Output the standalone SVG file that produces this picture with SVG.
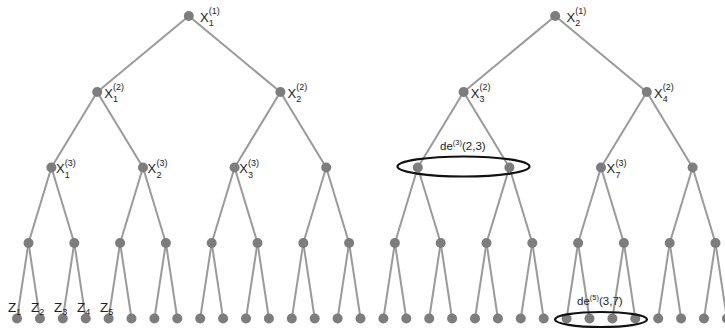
<svg xmlns="http://www.w3.org/2000/svg" width="725" height="329" viewBox="0 0 725 329">
<style>
.e{stroke:#9a9a9a;stroke-width:2;fill:none}
.n{fill:#7d7d7d}
.t{font-family:"Liberation Sans",Arial,sans-serif;fill:#222;font-size:13px}
.s{font-size:9px}
.z{font-family:"Liberation Sans",Arial,sans-serif;fill:#222;font-size:13.5px}
.zs{font-size:9px}
.d{font-family:"Liberation Sans",Arial,sans-serif;fill:#222;font-size:11.5px}
.ds{font-size:7.5px}
.o{fill:none;stroke:#111;stroke-width:2.2}
</style>
<rect width="725" height="329" fill="#fff"/>
<g id="connectors">
<line class="e" x1="188.8" y1="16" x2="97.2" y2="92"/>
<line class="e" x1="188.8" y1="16" x2="280.4" y2="92"/>
<line class="e" x1="555.2" y1="16" x2="463.6" y2="92"/>
<line class="e" x1="555.2" y1="16" x2="646.8" y2="92"/>
<line class="e" x1="97.2" y1="92" x2="51.4" y2="167.5"/>
<line class="e" x1="97.2" y1="92" x2="143" y2="167.5"/>
<line class="e" x1="280.4" y1="92" x2="234.6" y2="167.5"/>
<line class="e" x1="280.4" y1="92" x2="326.2" y2="167.5"/>
<line class="e" x1="463.6" y1="92" x2="417.8" y2="167.5"/>
<line class="e" x1="463.6" y1="92" x2="509.4" y2="167.5"/>
<line class="e" x1="646.8" y1="92" x2="601" y2="167.5"/>
<line class="e" x1="646.8" y1="92" x2="692.6" y2="167.5"/>
<line class="e" x1="51.4" y1="167.5" x2="28.5" y2="243"/>
<line class="e" x1="51.4" y1="167.5" x2="74.3" y2="243"/>
<line class="e" x1="143" y1="167.5" x2="120.1" y2="243"/>
<line class="e" x1="143" y1="167.5" x2="165.9" y2="243"/>
<line class="e" x1="234.6" y1="167.5" x2="211.7" y2="243"/>
<line class="e" x1="234.6" y1="167.5" x2="257.5" y2="243"/>
<line class="e" x1="326.2" y1="167.5" x2="303.3" y2="243"/>
<line class="e" x1="326.2" y1="167.5" x2="349.1" y2="243"/>
<line class="e" x1="417.8" y1="167.5" x2="394.9" y2="243"/>
<line class="e" x1="417.8" y1="167.5" x2="440.7" y2="243"/>
<line class="e" x1="509.4" y1="167.5" x2="486.5" y2="243"/>
<line class="e" x1="509.4" y1="167.5" x2="532.3" y2="243"/>
<line class="e" x1="601" y1="167.5" x2="578.1" y2="243"/>
<line class="e" x1="601" y1="167.5" x2="623.9" y2="243"/>
<line class="e" x1="692.6" y1="167.5" x2="669.7" y2="243"/>
<line class="e" x1="692.6" y1="167.5" x2="715.5" y2="243"/>
<line class="e" x1="28.5" y1="243" x2="17" y2="318.5"/>
<line class="e" x1="28.5" y1="243" x2="39.9" y2="318.5"/>
<line class="e" x1="74.3" y1="243" x2="62.8" y2="318.5"/>
<line class="e" x1="74.3" y1="243" x2="85.7" y2="318.5"/>
<line class="e" x1="120.1" y1="243" x2="108.6" y2="318.5"/>
<line class="e" x1="120.1" y1="243" x2="131.5" y2="318.5"/>
<line class="e" x1="165.9" y1="243" x2="154.4" y2="318.5"/>
<line class="e" x1="165.9" y1="243" x2="177.3" y2="318.5"/>
<line class="e" x1="211.7" y1="243" x2="200.2" y2="318.5"/>
<line class="e" x1="211.7" y1="243" x2="223.1" y2="318.5"/>
<line class="e" x1="257.5" y1="243" x2="246" y2="318.5"/>
<line class="e" x1="257.5" y1="243" x2="268.9" y2="318.5"/>
<line class="e" x1="303.3" y1="243" x2="291.8" y2="318.5"/>
<line class="e" x1="303.3" y1="243" x2="314.7" y2="318.5"/>
<line class="e" x1="349.1" y1="243" x2="337.6" y2="318.5"/>
<line class="e" x1="349.1" y1="243" x2="360.5" y2="318.5"/>
<line class="e" x1="394.9" y1="243" x2="383.4" y2="318.5"/>
<line class="e" x1="394.9" y1="243" x2="406.3" y2="318.5"/>
<line class="e" x1="440.7" y1="243" x2="429.2" y2="318.5"/>
<line class="e" x1="440.7" y1="243" x2="452.1" y2="318.5"/>
<line class="e" x1="486.5" y1="243" x2="475" y2="318.5"/>
<line class="e" x1="486.5" y1="243" x2="497.9" y2="318.5"/>
<line class="e" x1="532.3" y1="243" x2="520.8" y2="318.5"/>
<line class="e" x1="532.3" y1="243" x2="543.7" y2="318.5"/>
<line class="e" x1="578.1" y1="243" x2="566.6" y2="318.5"/>
<line class="e" x1="578.1" y1="243" x2="589.5" y2="318.5"/>
<line class="e" x1="623.9" y1="243" x2="612.4" y2="318.5"/>
<line class="e" x1="623.9" y1="243" x2="635.3" y2="318.5"/>
<line class="e" x1="669.7" y1="243" x2="658.2" y2="318.5"/>
<line class="e" x1="669.7" y1="243" x2="681.1" y2="318.5"/>
<line class="e" x1="715.5" y1="243" x2="704" y2="318.5"/>
<line class="e" x1="715.5" y1="243" x2="726.9" y2="318.5"/>
</g>
<g id="n1_1"><circle class="n" cx="188.8" cy="16" r="5"/><text class="t"><tspan x="200" y="21.5">X</tspan><tspan class="s" x="208.8" y="14">(1)</tspan><tspan class="s" x="208.8" y="26">1</tspan></text></g>
<g id="n1_2"><circle class="n" cx="555.2" cy="16" r="5"/><text class="t"><tspan x="566.5" y="21.5">X</tspan><tspan class="s" x="575.3" y="14">(1)</tspan><tspan class="s" x="575.3" y="26">2</tspan></text></g>
<g id="n2_1"><circle class="n" cx="97.2" cy="92" r="5"/><text class="t"><tspan x="104.3" y="97.5">X</tspan><tspan class="s" x="113.1" y="90">(2)</tspan><tspan class="s" x="113.1" y="102">1</tspan></text></g>
<g id="n2_2"><circle class="n" cx="280.4" cy="92" r="5"/><text class="t"><tspan x="287.5" y="97.5">X</tspan><tspan class="s" x="296.3" y="90">(2)</tspan><tspan class="s" x="296.3" y="102">2</tspan></text></g>
<g id="n2_3"><circle class="n" cx="463.6" cy="92" r="5"/><text class="t"><tspan x="470.7" y="97.5">X</tspan><tspan class="s" x="479.5" y="90">(2)</tspan><tspan class="s" x="479.5" y="102">3</tspan></text></g>
<g id="n2_4"><circle class="n" cx="646.8" cy="92" r="5"/><text class="t"><tspan x="653.9" y="97.5">X</tspan><tspan class="s" x="662.7" y="90">(2)</tspan><tspan class="s" x="662.7" y="102">4</tspan></text></g>
<g id="n3_1"><circle class="n" cx="51.4" cy="167.5" r="5"/><text class="t"><tspan x="56" y="173">X</tspan><tspan class="s" x="64.8" y="165.5">(3)</tspan><tspan class="s" x="64.8" y="177.5">1</tspan></text></g>
<g id="n3_2"><circle class="n" cx="143" cy="167.5" r="5"/><text class="t"><tspan x="147.6" y="173">X</tspan><tspan class="s" x="156.4" y="165.5">(3)</tspan><tspan class="s" x="156.4" y="177.5">2</tspan></text></g>
<g id="n3_3"><circle class="n" cx="234.6" cy="167.5" r="5"/><text class="t"><tspan x="239.2" y="173">X</tspan><tspan class="s" x="248" y="165.5">(3)</tspan><tspan class="s" x="248" y="177.5">3</tspan></text></g>
<g id="n3_4"><circle class="n" cx="326.2" cy="167.5" r="5"/></g>
<g id="n3_5"><circle class="n" cx="417.8" cy="167.5" r="5"/></g>
<g id="n3_6"><circle class="n" cx="509.4" cy="167.5" r="5"/></g>
<g id="n3_7"><circle class="n" cx="601" cy="167.5" r="5"/><text class="t"><tspan x="606.6" y="173">X</tspan><tspan class="s" x="615.4" y="165.5">(3)</tspan><tspan class="s" x="615.4" y="177.5">7</tspan></text></g>
<g id="n3_8"><circle class="n" cx="692.6" cy="167.5" r="5"/></g>
<g id="n4_1"><circle class="n" cx="28.5" cy="243" r="5"/></g>
<g id="n4_2"><circle class="n" cx="74.3" cy="243" r="5"/></g>
<g id="n4_3"><circle class="n" cx="120.1" cy="243" r="5"/></g>
<g id="n4_4"><circle class="n" cx="165.9" cy="243" r="5"/></g>
<g id="n4_5"><circle class="n" cx="211.7" cy="243" r="5"/></g>
<g id="n4_6"><circle class="n" cx="257.5" cy="243" r="5"/></g>
<g id="n4_7"><circle class="n" cx="303.3" cy="243" r="5"/></g>
<g id="n4_8"><circle class="n" cx="349.1" cy="243" r="5"/></g>
<g id="n4_9"><circle class="n" cx="394.9" cy="243" r="5"/></g>
<g id="n4_10"><circle class="n" cx="440.7" cy="243" r="5"/></g>
<g id="n4_11"><circle class="n" cx="486.5" cy="243" r="5"/></g>
<g id="n4_12"><circle class="n" cx="532.3" cy="243" r="5"/></g>
<g id="n4_13"><circle class="n" cx="578.1" cy="243" r="5"/></g>
<g id="n4_14"><circle class="n" cx="623.9" cy="243" r="5"/></g>
<g id="n4_15"><circle class="n" cx="669.7" cy="243" r="5"/></g>
<g id="n4_16"><circle class="n" cx="715.5" cy="243" r="5"/></g>
<g id="n5_1"><circle class="n" cx="17" cy="318.5" r="5"/></g>
<g id="n5_2"><circle class="n" cx="39.9" cy="318.5" r="5"/></g>
<g id="n5_3"><circle class="n" cx="62.8" cy="318.5" r="5"/></g>
<g id="n5_4"><circle class="n" cx="85.7" cy="318.5" r="5"/></g>
<g id="n5_5"><circle class="n" cx="108.6" cy="318.5" r="5"/></g>
<g id="n5_6"><circle class="n" cx="131.5" cy="318.5" r="5"/></g>
<g id="n5_7"><circle class="n" cx="154.4" cy="318.5" r="5"/></g>
<g id="n5_8"><circle class="n" cx="177.3" cy="318.5" r="5"/></g>
<g id="n5_9"><circle class="n" cx="200.2" cy="318.5" r="5"/></g>
<g id="n5_10"><circle class="n" cx="223.1" cy="318.5" r="5"/></g>
<g id="n5_11"><circle class="n" cx="246" cy="318.5" r="5"/></g>
<g id="n5_12"><circle class="n" cx="268.9" cy="318.5" r="5"/></g>
<g id="n5_13"><circle class="n" cx="291.8" cy="318.5" r="5"/></g>
<g id="n5_14"><circle class="n" cx="314.7" cy="318.5" r="5"/></g>
<g id="n5_15"><circle class="n" cx="337.6" cy="318.5" r="5"/></g>
<g id="n5_16"><circle class="n" cx="360.5" cy="318.5" r="5"/></g>
<g id="n5_17"><circle class="n" cx="383.4" cy="318.5" r="5"/></g>
<g id="n5_18"><circle class="n" cx="406.3" cy="318.5" r="5"/></g>
<g id="n5_19"><circle class="n" cx="429.2" cy="318.5" r="5"/></g>
<g id="n5_20"><circle class="n" cx="452.1" cy="318.5" r="5"/></g>
<g id="n5_21"><circle class="n" cx="475" cy="318.5" r="5"/></g>
<g id="n5_22"><circle class="n" cx="497.9" cy="318.5" r="5"/></g>
<g id="n5_23"><circle class="n" cx="520.8" cy="318.5" r="5"/></g>
<g id="n5_24"><circle class="n" cx="543.7" cy="318.5" r="5"/></g>
<g id="n5_25"><circle class="n" cx="566.6" cy="318.5" r="5"/></g>
<g id="n5_26"><circle class="n" cx="589.5" cy="318.5" r="5"/></g>
<g id="n5_27"><circle class="n" cx="612.4" cy="318.5" r="5"/></g>
<g id="n5_28"><circle class="n" cx="635.3" cy="318.5" r="5"/></g>
<g id="n5_29"><circle class="n" cx="658.2" cy="318.5" r="5"/></g>
<g id="n5_30"><circle class="n" cx="681.1" cy="318.5" r="5"/></g>
<g id="n5_31"><circle class="n" cx="704" cy="318.5" r="5"/></g>
<g id="n5_32"><circle class="n" cx="726.9" cy="318.5" r="5"/></g>
<g id="leaf_labels">
<text class="z"><tspan x="8" y="312">Z</tspan><tspan class="zs" x="16.2" y="315">1</tspan></text>
<text class="z"><tspan x="31" y="312">Z</tspan><tspan class="zs" x="39.2" y="315">2</tspan></text>
<text class="z"><tspan x="54" y="312">Z</tspan><tspan class="zs" x="62.2" y="315">3</tspan></text>
<text class="z"><tspan x="77" y="312">Z</tspan><tspan class="zs" x="85.2" y="315">4</tspan></text>
<text class="z"><tspan x="100" y="312">Z</tspan><tspan class="zs" x="108.2" y="315">5</tspan></text>
</g>
<g id="group_de3">
<ellipse class="o" cx="463.5" cy="166.5" rx="66" ry="10"/>
<text class="d" x="440" y="150">de<tspan class="ds" dy="-5">(3)</tspan><tspan dy="5">(2,3)</tspan></text>
</g>
<g id="group_de5">
<ellipse class="o" cx="601" cy="319.5" rx="46" ry="7.5"/>
<text class="d" x="577" y="304.5">de<tspan class="ds" dy="-5">(5)</tspan><tspan dy="5">(3,7)</tspan></text>
</g>
</svg>
